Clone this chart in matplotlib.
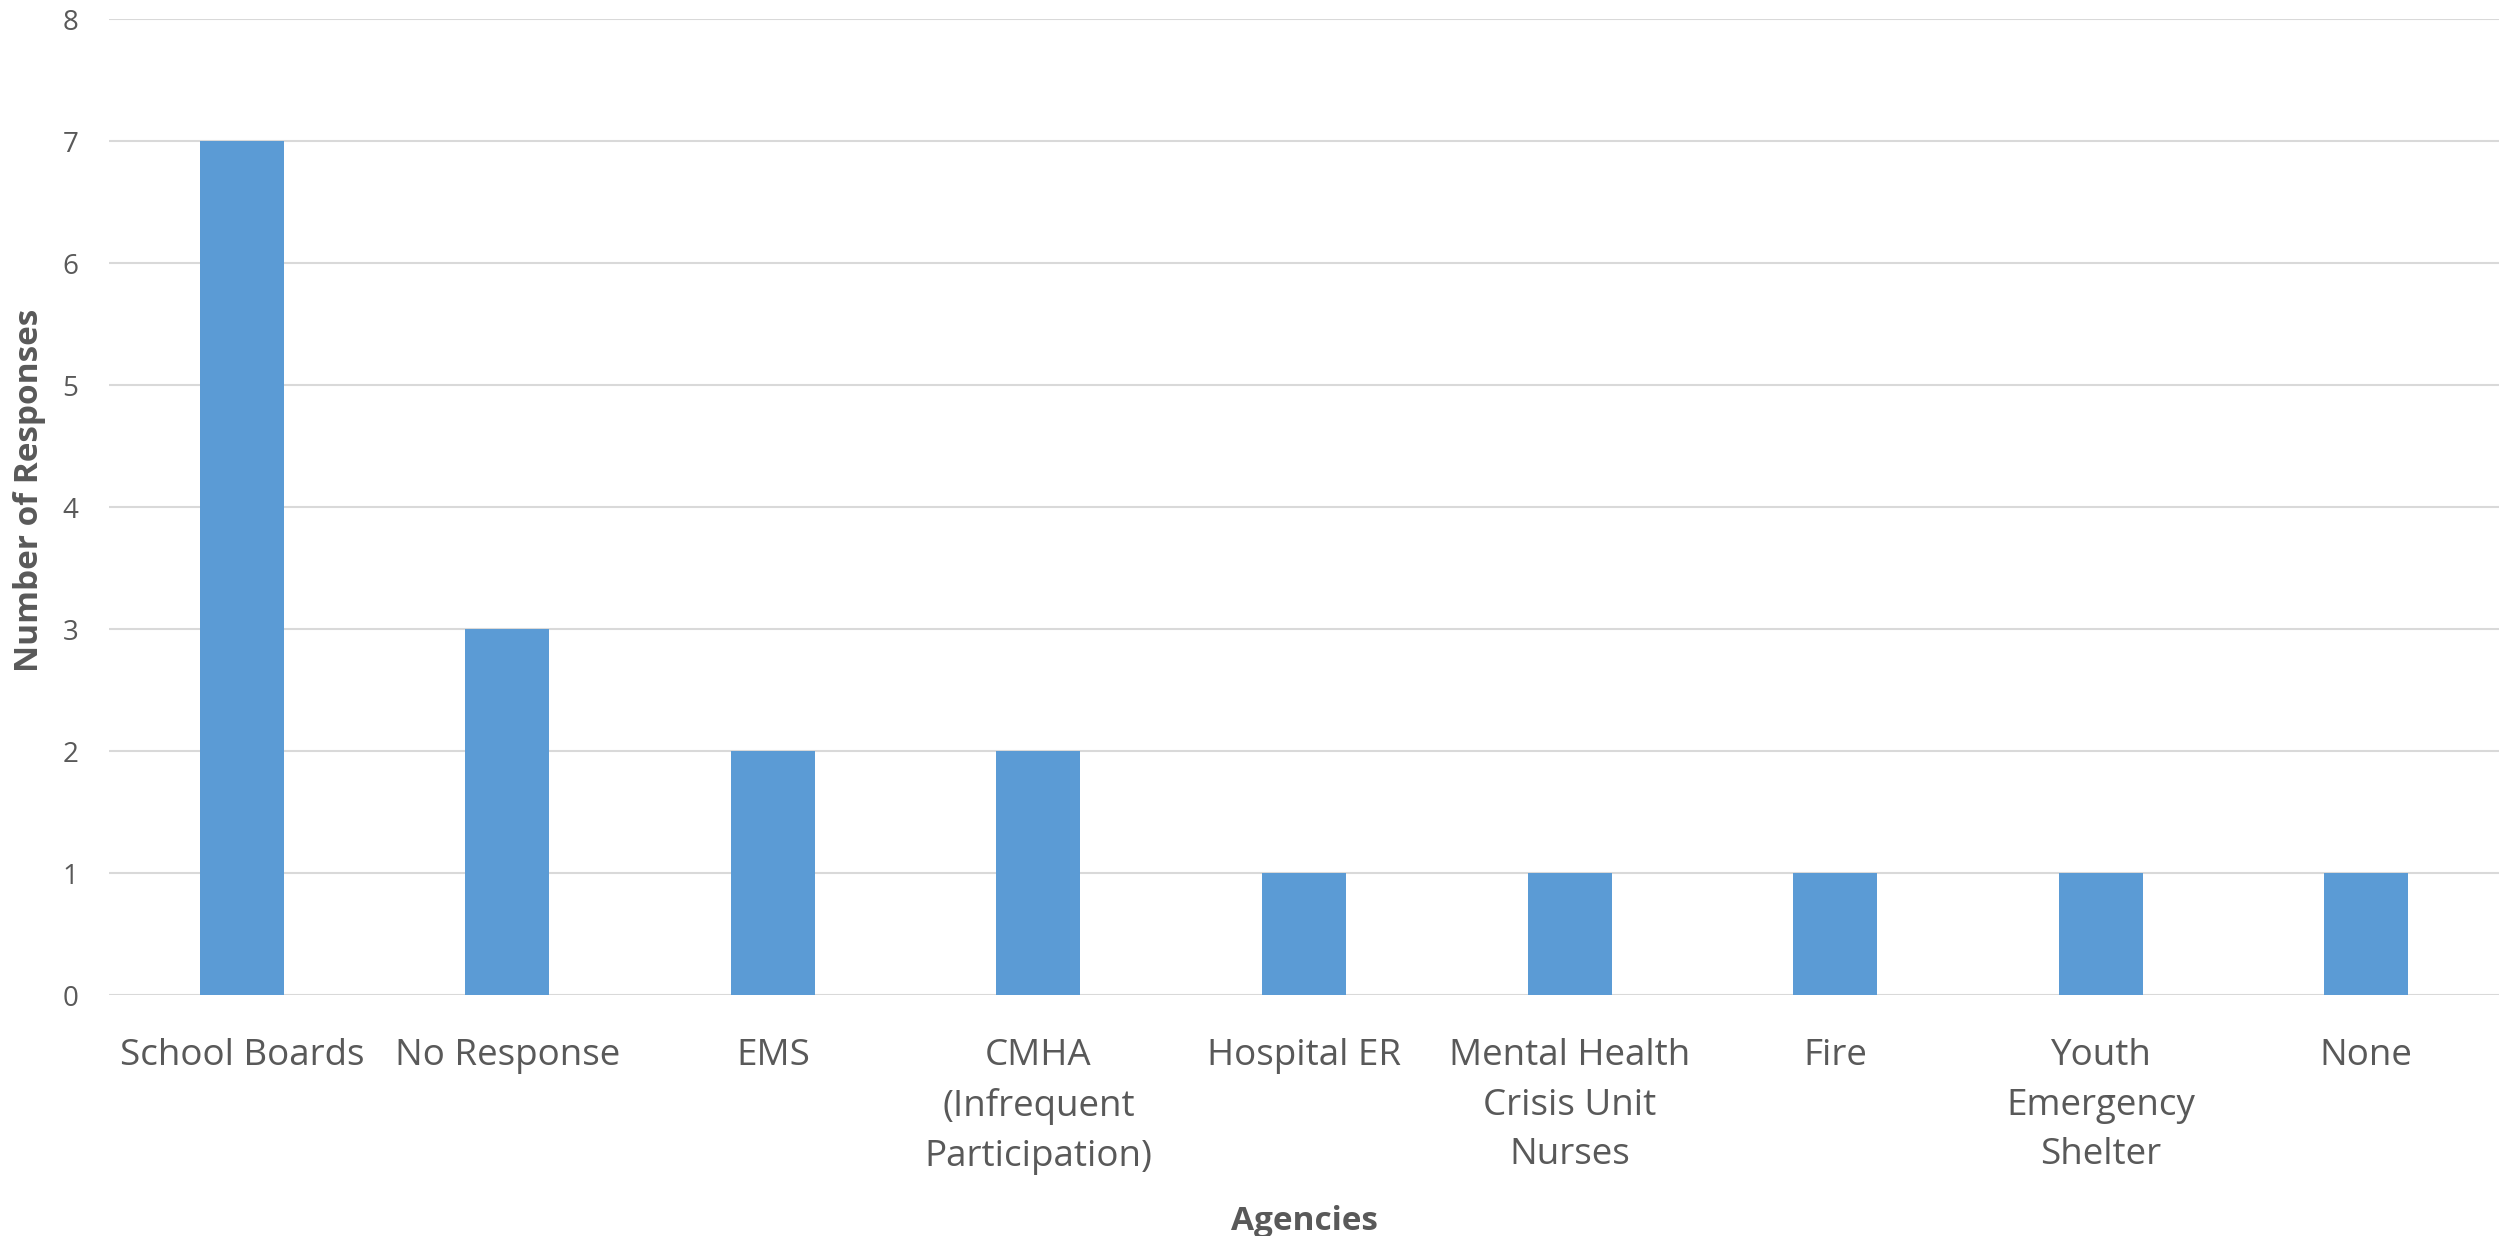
import matplotlib
matplotlib.use("Agg")
import matplotlib.pyplot as plt

categories = ["School Boards", "No Response", "EMS", "CMHA\n(Infrequent\nParticipation)",
              "Hospital ER", "Mental Health\nCrisis Unit\nNurses", "Fire",
              "Youth\nEmergency\nShelter", "None"]
values = [7, 3, 2, 2, 1, 1, 1, 1, 1]
yticks = [0, 1, 2, 3, 4, 5, 6, 7, 8]

plt.rcParams['font.family'] = ['Open Sans', 'DejaVu Sans']
TXT = '#595959'

fig = plt.figure(figsize=(24.99, 12.36), dpi=100)
ax = fig.add_axes([109/2499, (1236-995)/1236, (2499-109)/2499, (995-19)/1236])
x = list(range(len(categories)))
ax.bar(x, values, width=0.316, color='#5B9BD5', zorder=3)
ax.set_xlim(-0.5, len(categories) - 0.5)
ax.set_ylim(0, 8)
ax.set_yticks(yticks)
ax.set_yticklabels([str(t) for t in yticks])
ax.set_xticks(x)
ax.set_xticklabels(categories, linespacing=1.5)
ax.yaxis.grid(True, color='#D9D9D9', linewidth=1.5, zorder=0)
ax.set_axisbelow(True)
for s in ax.spines.values():
    s.set_visible(False)
ax.tick_params(axis='y', length=0, pad=22, labelsize=20, labelcolor=TXT)
ax.tick_params(axis='x', length=0, pad=31, labelsize=26.5, labelcolor=TXT)
ax.set_xlabel('Agencies', fontsize=24, fontweight='bold', color=TXT, va='center')
ax.set_ylabel('Number of Responses', fontsize=24, fontweight='bold', color=TXT, va='center')
ax.xaxis.set_label_coords(0.5, (995 - 1222) / 976)
ax.yaxis.set_label_coords((30 - 109) / 2390, (995 - 490) / 976)
fig.savefig('out.png', dpi=100, facecolor='white')
